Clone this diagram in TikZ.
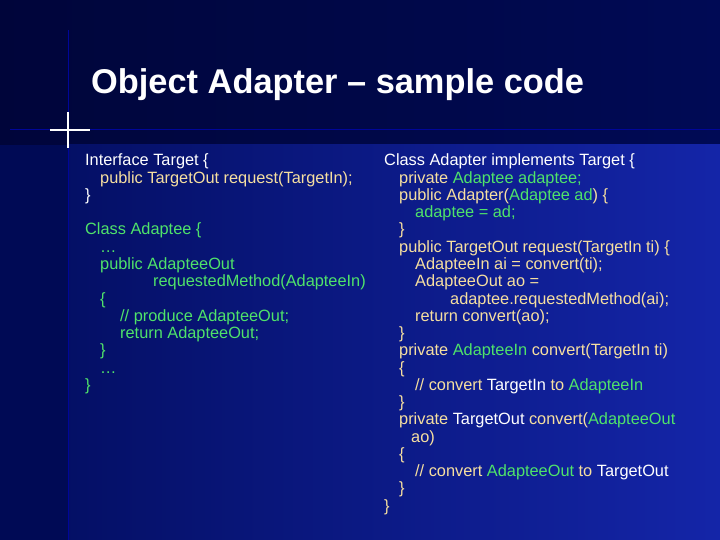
\documentclass[tikz,border=0pt]{standalone}
\usepackage{fontspec}
\setmainfont{Liberation Sans}
\usetikzlibrary{positioning}
\definecolor{navy}{HTML}{000A55}
\definecolor{deepnavy}{HTML}{00053A}
\definecolor{slideblue}{HTML}{1425A8}
\definecolor{codeyellow}{HTML}{F6DFA0}
\definecolor{codegreen}{HTML}{4FE36A}
\newcommand\Wh[1]{\textcolor{white}{#1}}
\newcommand\Ye[1]{\textcolor{codeyellow}{#1}}
\newcommand\Gr[1]{\textcolor{codegreen}{#1}}
\tikzset{code/.style={anchor=base west, inner sep=0pt, font=\fontsize{16.4}{17}\selectfont}}
\begin{document}
\begin{tikzpicture}[x=1bp, y=-1bp]
  \useasboundingbox (0,0) rectangle (720,540);

  % background
  \fill[navy] (0,0) rectangle (720,540);
  \shade[left color=deepnavy, right color=navy] (0,0) rectangle (720,145);
  \shade[left color=navy!80!slideblue, right color=slideblue] (68,145) rectangle (720,540);
  \draw[blue!40!navy, line width=1pt] (68,30) -- (68,540);
  \draw[blue!40!navy, line width=1pt] (10,130) -- (720,130);
  \draw[white, line width=1.2pt] (68,112) -- (68,148);
  \draw[white, line width=1.2pt] (50,130) -- (90,130);

  % title
  \node[anchor=base west, inner sep=0pt, text=white, font=\fontsize{34.5}{40}\selectfont\bfseries] (title) at (91,94) {Object Adapter -- sample code};

  \def\L{17.25}
  % left column
  \node[code] (l1) at (85,166+0*\L) {\Wh{Interface Target \{}};
  \node[code] (l2) at (100,166+1*\L) {\Ye{public TargetOut request(TargetIn);}};
  \node[code] (l3) at (85,166+2*\L) {\Wh{\}}};
  \node[code] (l4) at (85,166+4*\L) {\Gr{Class Adaptee \{}};
  \node[code] (l5) at (100,166+5*\L) {\Gr{\ldots}};
  \node[code] (l6) at (100,166+6*\L) {\Gr{public AdapteeOut}};
  \node[code] (l7) at (153,166+7*\L) {\Gr{requestedMethod(AdapteeIn)}};
  \node[code] (l8) at (100,166+8*\L) {\Gr{\{}};
  \node[code] (l9) at (120,166+9*\L) {\Gr{// produce AdapteeOut;}};
  \node[code] (l10) at (120,166+10*\L) {\Gr{return AdapteeOut;}};
  \node[code] (l11) at (100,166+11*\L) {\Gr{\}}};
  \node[code] (l12) at (100,166+12*\L) {\Gr{\ldots}};
  \node[code] (l13) at (85,166+13*\L) {\Gr{\}}};

  % right column
  \node[code] (r1) at (384,166+0*\L) {\Wh{Class Adapter implements Target \{}};
  \node[code] (r2) at (399,166+1*\L) {\Ye{private }\Gr{Adaptee adaptee;}};
  \node[code] (r3) at (399,166+2*\L) {\Ye{public Adapter(}\Gr{Adaptee ad}\Ye{) \{}};
  \node[code] (r4) at (415,166+3*\L) {\Gr{adaptee = ad;}};
  \node[code] (r5) at (399,166+4*\L) {\Ye{\}}};
  \node[code] (r6) at (399,166+5*\L) {\Ye{public TargetOut request(TargetIn ti) \{}};
  \node[code] (r7) at (415,166+6*\L) {\Ye{AdapteeIn ai = convert(ti);}};
  \node[code] (r8) at (415,166+7*\L) {\Ye{AdapteeOut ao =}};
  \node[code] (r9) at (450,166+8*\L) {\Ye{adaptee.requestedMethod(ai);}};
  \node[code] (r10) at (415,166+9*\L) {\Ye{return convert(ao);}};
  \node[code] (r11) at (399,166+10*\L) {\Ye{\}}};
  \node[code] (r12) at (399,166+11*\L) {\Ye{private }\Gr{AdapteeIn }\Ye{convert(TargetIn ti)}};
  \node[code] (r13) at (399,166+12*\L) {\Ye{\{}};
  \node[code] (r14) at (415,166+13*\L) {\Ye{// convert }\Wh{TargetIn }\Ye{to }\Gr{AdapteeIn}};
  \node[code] (r15) at (399,166+14*\L) {\Ye{\}}};
  \node[code] (r16) at (399,166+15*\L) {\Ye{private }\Wh{TargetOut }\Ye{convert(}\Gr{AdapteeOut}};
  \node[code] (r17) at (411,166+16*\L) {\Ye{ao)}};
  \node[code] (r18) at (399,166+17*\L) {\Ye{\{}};
  \node[code] (r19) at (415,166+18*\L) {\Ye{// convert }\Gr{AdapteeOut }\Ye{to }\Wh{TargetOut}};
  \node[code] (r20) at (399,166+19*\L) {\Ye{\}}};
  \node[code] (r21) at (384,166+20*\L) {\Ye{\}}};
\end{tikzpicture}
\end{document}
